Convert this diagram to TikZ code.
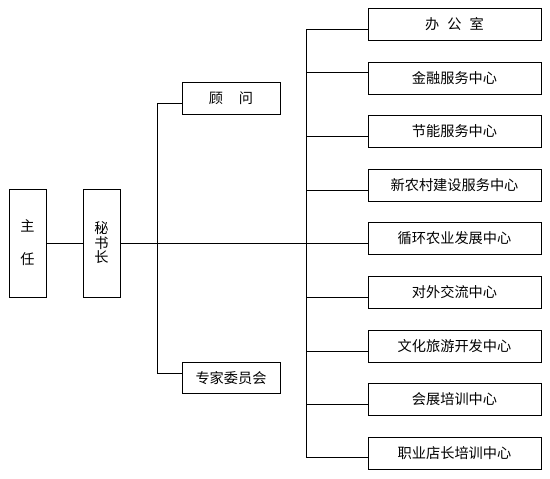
\documentclass[tikz,border=0pt]{standalone}
\usepackage{fontspec}
\setmainfont{Noto Sans CJK SC}
\begin{document}
\begin{tikzpicture}[x=1pt,y=-1pt,
  box/.style={draw,line width=1pt,inner sep=0pt,font=\fontsize{14.2}{15}\selectfont},
  vbox/.style={box,minimum width=37pt,minimum height=108pt,align=center},
  lbox/.style={box,minimum width=98pt,minimum height=31.5pt},
  rbox/.style={box,minimum width=173pt,minimum height=32pt},
  conn/.style={line width=1pt}]
\useasboundingbox (0,0) rectangle (550,479);
\node[vbox] (zhu) at (27.5,243) {主\\[18pt]任};
\node[vbox,font=\fontsize{14.2}{14.5}\selectfont] (mi) at (101.5,243) {秘\\书\\长};
\node[lbox] (gw) at (231,98.5) {顾\hspace{16pt}问};
\node[lbox] (zj) at (231,378) {专家委员会};
\node[rbox] (b1) at (454.5,24) {办\hspace{8pt}公\hspace{8pt}室};
\node[rbox] (b2) at (454.5,78) {金融服务中心};
\node[rbox] (b3) at (454.5,131) {节能服务中心};
\node[rbox] (b4) at (454.5,185) {新农村建设服务中心};
\node[rbox] (b5) at (454.5,238) {循环农业发展中心};
\node[rbox] (b6) at (454.5,292) {对外交流中心};
\node[rbox] (b7) at (454.5,346) {文化旅游开发中心};
\node[rbox] (b8) at (454.5,399.5) {会展培训中心};
\node[rbox] (b9) at (454.5,453) {职业店长培训中心};
% left trunk
\coordinate (l1) at (157,103);
\coordinate (l2) at (157,373);
\draw[conn] (l1) -- (l2);
\draw[conn] (l1) -- (l1 -| gw.west);
\draw[conn] (l2) -- (l2 -| zj.west);
\draw[conn] (zhu.east) -- (mi.west);
% right trunk
\coordinate (r1) at (306,29);
\coordinate (r2) at (306,72);
\coordinate (r3) at (306,136);
\coordinate (r4) at (306,190);
\coordinate (r5) at (306,243);
\coordinate (r6) at (306,297);
\coordinate (r7) at (306,351);
\coordinate (r8) at (306,404);
\coordinate (r9) at (306,457);
\draw[conn] (r1) -- (r9);
\draw[conn] (mi.east) -- (r5 -| b5.west);
\foreach \i in {1,2,3,4,6,7,8,9} {\draw[conn] (r\i) -- (r\i -| b\i.west);}
\end{tikzpicture}
\end{document}
